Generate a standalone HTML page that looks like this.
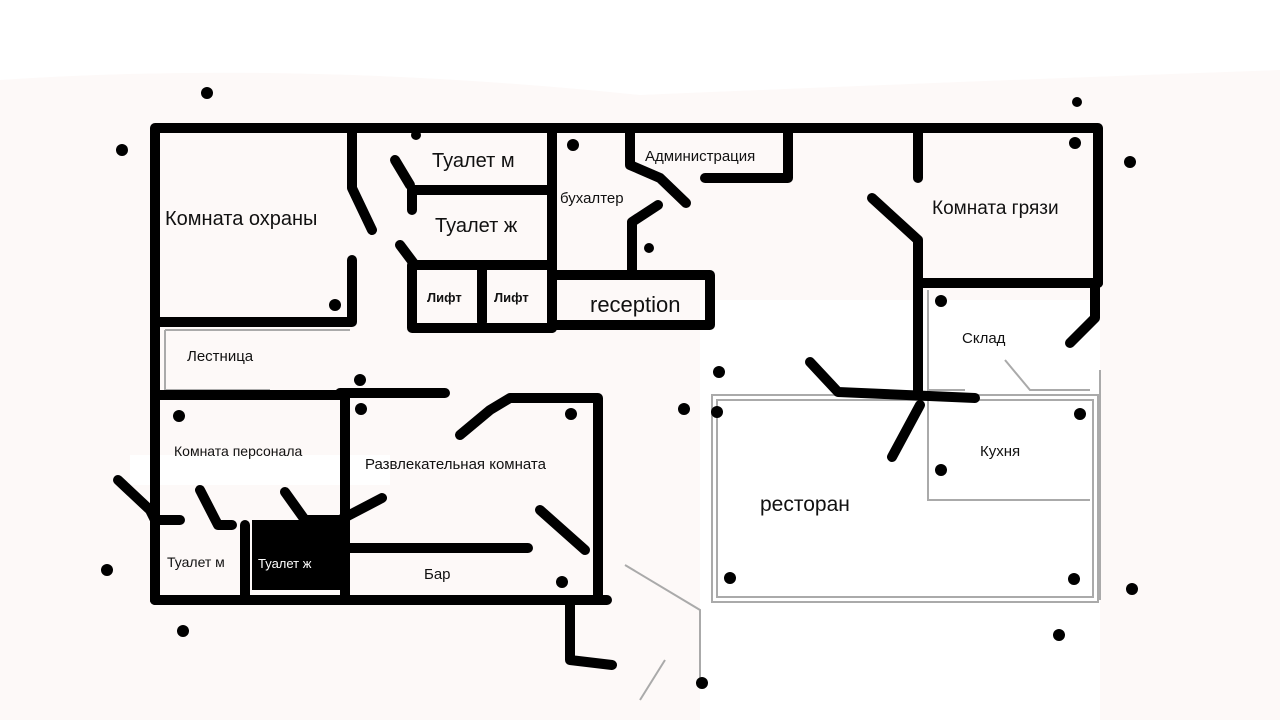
<!DOCTYPE html>
<html><head><meta charset="utf-8"><style>
html,body{margin:0;padding:0;background:#fff;}
svg{display:block}
text{font-family:"Liberation Sans","DejaVu Sans",sans-serif;fill:#111}
</style></head><body>
<svg width="1280" height="720" viewBox="0 0 1280 720" xmlns="http://www.w3.org/2000/svg">
<rect x="0" y="0" width="1280" height="720" fill="#fff"/>
<path d="M0 80 Q300 60 640 95 Q1000 80 1280 70 L1280 720 L0 720 Z" fill="#fdf9f8"/>
<rect x="700" y="300" width="400" height="420" fill="#fff"/>
<rect x="130" y="455" width="260" height="30" fill="#fff"/>
<g stroke="#aaa" stroke-width="2" fill="none">
<rect x="712" y="395" width="386" height="207"/>
<rect x="717" y="400" width="376" height="197"/>
<path d="M928 290 V390 H965"/><path d="M928 400 V500 H1090"/>
<path d="M1005 360 L1030 390 H1090"/><path d="M1100 370 V600"/>
<path d="M625 565 L700 610 V680"/><path d="M640 700 L665 660"/>
<path d="M165 330 H350 M165 330 V390 H270"/>
</g>
<g stroke="#000" stroke-width="10" fill="none" stroke-linecap="round" stroke-linejoin="round">
<path d="M155 600 V128 H1098 V283"/>
<path d="M352 128 V188 L372 230"/><path d="M352 260 V322 H155"/>
<path d="M412 190 H552"/><path d="M412 190 V210"/><path d="M552 128 V328"/>
<path d="M395 160 L410 185"/><path d="M400 245 L415 265 H552"/>
<path d="M412 265 V328 H552"/><path d="M482 265 V322"/>
<path d="M552 275 H710 V325 H552"/>
<path d="M632 270 V222 L658 205"/>
<path d="M630 128 V165 L660 178 L686 203"/><path d="M705 178 H788 V128"/>
<path d="M918 128 V178"/><path d="M872 198 L918 240 V393"/>
<path d="M918 283 H1098"/><path d="M1095 283 V318 L1070 343"/>
<path d="M810 362 L838 392 L975 398"/>
<path d="M920 405 L892 457"/>
<path d="M155 395 H345"/><path d="M340 393 H445"/>
<path d="M345 395 V600"/>
<path d="M460 435 L490 410 L510 398 H598 V600"/>
<path d="M540 510 L585 550"/>
<path d="M350 548 H528"/>
<path d="M155 600 H607"/>
<path d="M570 600 V660 L612 665"/>
<path d="M155 520 V600"/><path d="M245 525 V600"/>
<path d="M118 480 L150 510 L155 520 H180"/>
<path d="M200 490 L218 525 H232"/>
<path d="M285 492 L305 520 H340 L382 498"/>
</g>
<rect x="252" y="520" width="88" height="70" fill="#000"/>
<g fill="#000">
<circle cx="207" cy="93" r="6"/><circle cx="122" cy="150" r="6"/><circle cx="416" cy="135" r="5"/>
<circle cx="573" cy="145" r="6"/><circle cx="1077" cy="102" r="5"/><circle cx="1130" cy="162" r="6"/>
<circle cx="1075" cy="143" r="6"/><circle cx="335" cy="305" r="6"/><circle cx="360" cy="380" r="6"/>
<circle cx="649" cy="248" r="5"/><circle cx="941" cy="301" r="6"/><circle cx="719" cy="372" r="6"/>
<circle cx="684" cy="409" r="6"/><circle cx="717" cy="412" r="6"/><circle cx="1080" cy="414" r="6"/>
<circle cx="179" cy="416" r="6"/><circle cx="361" cy="409" r="6"/><circle cx="571" cy="414" r="6"/>
<circle cx="941" cy="470" r="6"/><circle cx="107" cy="570" r="6"/><circle cx="730" cy="578" r="6"/>
<circle cx="1074" cy="579" r="6"/><circle cx="1132" cy="589" r="6"/><circle cx="562" cy="582" r="6"/>
<circle cx="183" cy="631" r="6"/><circle cx="1059" cy="635" r="6"/><circle cx="702" cy="683" r="6"/>
</g>
<text x="165" y="225" font-size="20">Комната охраны</text>
<text x="432" y="167" font-size="20">Туалет м</text>
<text x="435" y="232" font-size="20">Туалет ж</text>
<text x="427" y="302" font-size="13" font-weight="bold">Лифт</text>
<text x="494" y="302" font-size="13" font-weight="bold">Лифт</text>
<text x="560" y="203" font-size="15">бухалтер</text>
<text x="645" y="161" font-size="15">Администрация</text>
<text x="590" y="312" font-size="22">reception</text>
<text x="932" y="214" font-size="19">Комната грязи</text>
<text x="962" y="343" font-size="15">Склад</text>
<text x="980" y="456" font-size="15">Кухня</text>
<text x="187" y="361" font-size="15">Лестница</text>
<text x="174" y="456" font-size="14">Комната персонала</text>
<text x="365" y="469" font-size="15">Развлекательная комната</text>
<text x="760" y="511" font-size="21">ресторан</text>
<text x="167" y="567" font-size="14">Туалет м</text>
<text x="258" y="568" font-size="13" style="fill:#fff">Туалет ж</text>
<text x="424" y="579" font-size="15">Бар</text>
</svg>
</body></html>
